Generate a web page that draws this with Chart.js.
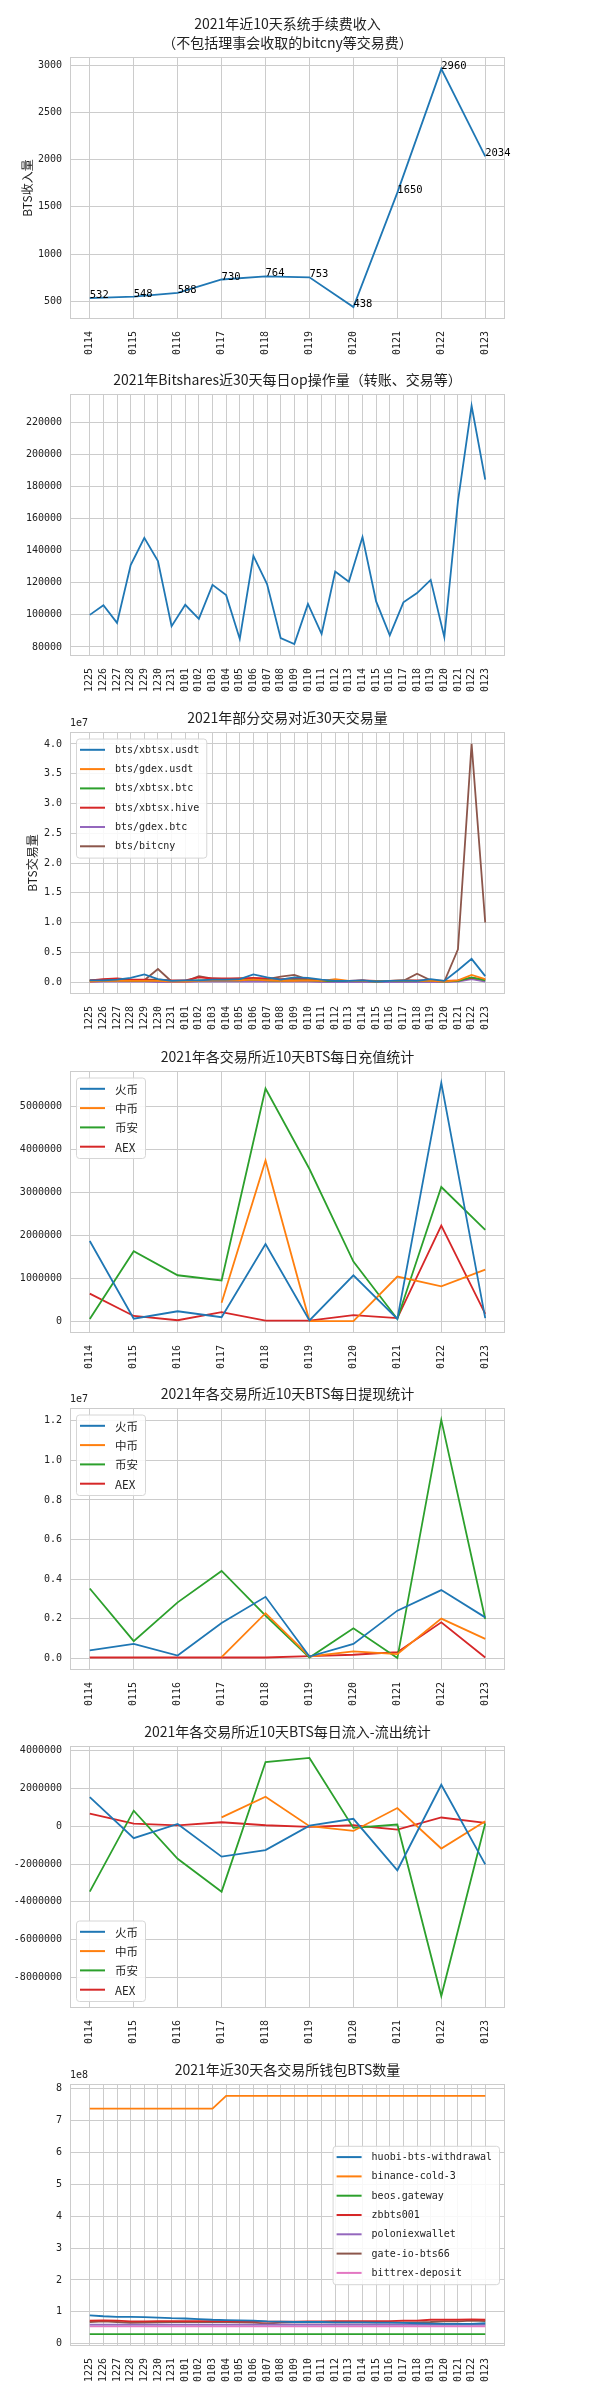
<!DOCTYPE html>
<html>
<head>
<meta charset="utf-8">
<script src="https://cdn.jsdelivr.net/npm/chart.js@4.4.1/dist/chart.umd.min.js"></script>
<style>
  body { margin: 0; background: #fff; width: 600px; height: 2400px; position: relative; overflow: hidden; }
  canvas { position: absolute; left: 0; }
</style>
</head>
<body>
<canvas id="c1" width="600" height="380"></canvas>
<canvas id="c2" width="600" height="380"></canvas>
<canvas id="c3" width="600" height="380"></canvas>
<canvas id="c4" width="600" height="380"></canvas>
<canvas id="c5" width="600" height="380"></canvas>
<canvas id="c6" width="600" height="380"></canvas>
<canvas id="c7" width="600" height="373"></canvas>
<script>
// dates
const dates10 = ['0114', '0115', '0116', '0117', '0118', '0119', '0120', '0121', '0122', '0123'];
const dates30 = ['1225', '1226', '1227', '1228', '1229', '1230', '1231', '0101', '0102', '0103',
                 '0104', '0105', '0106', '0107', '0108', '0109', '0110', '0111', '0112', '0113',
                 '0114', '0115', '0116', '0117', '0118', '0119', '0120', '0121', '0122', '0123'];

// 1. 系统手续费收入
const feeIncome = [532, 548, 588, 730, 764, 753, 438, 1650, 2960, 2034];
const feeTicks = [500, 1000, 1500, 2000, 2500, 3000];

// 2. 每日op操作量
const opCount = [100000, 106000, 95000, 131000, 148000, 133500, 93000, 106300, 97500, 118700,
                 112300, 85000, 136700, 119200, 85500, 81800, 106800, 88200, 127000, 120600,
                 148500, 108400, 87300, 107800, 113600, 121800, 86100, 170800, 230200, 184300];
const opTicks = [80000, 100000, 120000, 140000, 160000, 180000, 200000, 220000];

// 3. 交易对交易量 (x1e7)
const pairNames = ['bts/xbtsx.usdt', 'bts/gdex.usdt', 'bts/xbtsx.btc', 'bts/xbtsx.hive', 'bts/gdex.btc', 'bts/bitcny'];
const volXbtsxUsdt = [0.03, 0.03, 0.04, 0.07, 0.13, 0.05, 0.02, 0.03, 0.03, 0.04, 0.04, 0.05, 0.13, 0.08, 0.04,
                      0.08, 0.07, 0.04, 0.02, 0.02, 0.03, 0.01, 0.02, 0.03, 0.02, 0.05, 0.02, 0.2, 0.39, 0.1];
const volGdexUsdt = [0.01, 0.02, 0.02, 0.02, 0.02, 0.02, 0.01, 0.01, 0.02, 0.03, 0.03, 0.03, 0.04, 0.03, 0.02,
                     0.02, 0.03, 0.02, 0.05, 0.02, 0.02, 0.01, 0.02, 0.03, 0.02, 0.02, 0.01, 0.03, 0.12, 0.05];
const volXbtsxBtc = [0.02, 0.02, 0.03, 0.02, 0.02, 0.03, 0.02, 0.02, 0.03, 0.03, 0.03, 0.03, 0.04, 0.03, 0.02,
                     0.03, 0.03, 0.02, 0.02, 0.02, 0.02, 0.01, 0.02, 0.02, 0.02, 0.02, 0.01, 0.02, 0.08, 0.03];
const volXbtsxHive = [0.03, 0.05, 0.06, 0.04, 0.04, 0.04, 0.03, 0.03, 0.08, 0.06, 0.06, 0.06, 0.07, 0.06, 0.05,
                      0.06, 0.05, 0.03, 0.02, 0.02, 0.03, 0.02, 0.02, 0.03, 0.03, 0.03, 0.02, 0.03, 0.07, 0.04];
const volGdexBtc = [0.0, 0.01, 0.01, 0.01, 0.01, 0.0, 0.0, 0.0, 0.01, 0.01, 0.01, 0.01, 0.01, 0.01, 0.01,
                    0.01, 0.01, 0.0, 0.0, 0.0, 0.0, 0.0, 0.0, 0.0, 0.0, 0.0, 0.0, 0.01, 0.05, 0.01];
const volBitcny = [0.03, 0.04, 0.05, 0.03, 0.03, 0.22, 0.01, 0.01, 0.1, 0.06, 0.05, 0.06, 0.05, 0.05, 0.09,
                   0.12, 0.04, 0.01, 0.01, 0.01, 0.03, 0.0, 0.01, 0.02, 0.14, 0.03, 0.01, 0.55, 4.0, 1.0];
const volTicks = [0, 0.5, 1, 1.5, 2, 2.5, 3, 3.5, 4];

// 4-6. 交易所充值 / 提现 / 净流入
const exNames = ['火币', '中币', '币安', 'AEX'];
const depHuobi = [1870000, 55000, 230000, 90000, 1800000, 15000, 1070000, 50000, 5560000, 70000];
const depZb = [null, null, null, 430000, 3750000, 0, 0, 1040000, 810000, 1200000];
const depBinance = [50000, 1630000, 1070000, 950000, 5430000, 3550000, 1390000, 50000, 3130000, 2130000];
const depAex = [640000, 120000, 20000, 210000, 10000, 10000, 140000, 70000, 2230000, 170000];
const depTicks = [0, 1000000, 2000000, 3000000, 4000000, 5000000];

// 提现 (x1e7)
const wdHuobi = [0.039, 0.072, 0.013, 0.178, 0.31, 0.008, 0.072, 0.24, 0.344, 0.206];
const wdZb = [null, null, null, 0.005, 0.227, 0.008, 0.034, 0.02, 0.2, 0.097];
const wdBinance = [0.352, 0.086, 0.282, 0.441, 0.215, 0.003, 0.151, 0.0, 1.205, 0.198];
const wdAex = [0.003, 0.003, 0.003, 0.003, 0.003, 0.01, 0.017, 0.03, 0.181, 0.003];
const wdTicks = [0, 0.2, 0.4, 0.6, 0.8, 1.0, 1.2];

const netHuobi = [1540000, -630000, 120000, -1610000, -1260000, 30000, 390000, -2330000, 2190000, -2020000];
const netZb = [null, null, null, 470000, 1560000, 0, -250000, 960000, -1180000, 260000];
const netBinance = [-3460000, 820000, -1720000, -3460000, 3390000, 3610000, -90000, 90000, -8980000, 140000];
const netAex = [670000, 140000, 40000, 210000, 50000, -40000, 50000, -180000, 460000, 180000];
const netTicks = [-8000000, -6000000, -4000000, -2000000, 0, 2000000, 4000000];

// 7. 钱包BTS数量 (x1e8)
const walletNames = ['huobi-bts-withdrawal', 'binance-cold-3', 'beos.gateway', 'zbbts001',
                     'poloniexwallet', 'gate-io-bts66', 'bittrex-deposit'];
const wHuobi = [0.89, 0.86, 0.84, 0.84, 0.83, 0.82, 0.8, 0.79, 0.77, 0.75, 0.74, 0.73, 0.72, 0.7, 0.69,
                0.68, 0.68, 0.68, 0.67, 0.67, 0.67, 0.66, 0.66, 0.65, 0.64, 0.63, 0.62, 0.62, 0.62, 0.64];
const wBinance = [7.38, 7.38, 7.38, 7.38, 7.38, 7.38, 7.38, 7.38, 7.38, 7.38, 7.78, 7.78, 7.78, 7.78, 7.78,
                  7.78, 7.78, 7.78, 7.78, 7.78, 7.78, 7.78, 7.78, 7.78, 7.78, 7.78, 7.78, 7.78, 7.78, 7.78];
const wBeos = [0.3, 0.3, 0.3, 0.3, 0.3, 0.3, 0.3, 0.3, 0.3, 0.3, 0.3, 0.3, 0.3, 0.3, 0.3,
               0.3, 0.3, 0.3, 0.3, 0.3, 0.3, 0.3, 0.3, 0.3, 0.3, 0.3, 0.3, 0.3, 0.3, 0.3];
const wZb = [0.72, 0.73, 0.72, 0.7, 0.7, 0.71, 0.71, 0.71, 0.71, 0.71, 0.71, 0.7, 0.7, 0.69, 0.69,
             0.69, 0.7, 0.7, 0.71, 0.71, 0.71, 0.71, 0.71, 0.72, 0.72, 0.75, 0.75, 0.75, 0.76, 0.75];
const wPoloniex = [0.6, 0.6, 0.6, 0.6, 0.6, 0.6, 0.6, 0.6, 0.6, 0.6, 0.6, 0.6, 0.6, 0.6, 0.6,
                   0.6, 0.6, 0.6, 0.6, 0.6, 0.6, 0.6, 0.6, 0.6, 0.6, 0.6, 0.6, 0.6, 0.6, 0.6];
const wGate = [0.68, 0.7, 0.68, 0.65, 0.66, 0.67, 0.68, 0.68, 0.68, 0.68, 0.68, 0.67, 0.66, 0.63, 0.66,
               0.67, 0.67, 0.67, 0.67, 0.67, 0.67, 0.67, 0.67, 0.67, 0.67, 0.68, 0.7, 0.7, 0.72, 0.71];
const wBittrex = [0.54, 0.54, 0.54, 0.54, 0.54, 0.54, 0.54, 0.54, 0.54, 0.54, 0.54, 0.54, 0.54, 0.54, 0.54,
                  0.54, 0.54, 0.54, 0.54, 0.54, 0.54, 0.54, 0.54, 0.54, 0.54, 0.54, 0.54, 0.54, 0.54, 0.54];
const walletTicks = [0, 1, 2, 3, 4, 5, 6, 7, 8];

const COLORS = ['#1f77b4', '#ff7f0e', '#2ca02c', '#d62728', '#9467bd', '#8c564b', '#e377c2'];
const FONT_NUM = '"DejaVu Sans Mono", "Noto Sans CJK SC", sans-serif';
const FONT_CJK = '"Noto Sans CJK SC", sans-serif';
const TEXT = '#222222';
const GRID = '#cccccc';
const PLOT_TOPS = [57, 394, 732, 1071, 1408, 1746, 2084];
const PLOT_H = 262;
const TOP_PAD = 57;

// per-chart extra drawing: titles, axis title, offset text, custom legend, point labels
const extrasCfg = {};

const extras = {
  id: 'extras',
  beforeDatasetsDraw(chart) {
    const a = chart.chartArea, ctx = chart.ctx;
    ctx.save();
    ctx.strokeStyle = GRID;
    ctx.lineWidth = 1;
    ctx.strokeRect(Math.round(a.left) + 0.5, Math.round(a.top) + 0.5,
                   Math.round(a.width) - 1, Math.round(a.height) - 1);
    ctx.restore();
  },
  afterDraw(chart) {
    const cfg = extrasCfg[chart.canvas.id];
    const a = chart.chartArea, ctx = chart.ctx;
    const cx = (a.left + a.right) / 2;
    ctx.save();
    ctx.fillStyle = TEXT;

    // title
    ctx.font = '14px ' + FONT_CJK;
    ctx.textAlign = 'center';
    ctx.textBaseline = 'middle';
    if (cfg.title.length === 2) {
      ctx.fillText(cfg.title[0], cx, a.top - 33);
      ctx.fillText(cfg.title[1], cx, a.top - 14.7);
    } else {
      ctx.fillText(cfg.title[0], cx, a.top - 14);
    }

    // y axis title
    if (cfg.yTitle) {
      ctx.save();
      ctx.font = '12px ' + FONT_CJK;
      ctx.translate(cfg.yTitleX, (a.top + a.bottom) / 2);
      ctx.rotate(-Math.PI / 2);
      ctx.fillText(cfg.yTitle, 0, 0);
      ctx.restore();
    }

    // offset text like 1e7
    if (cfg.offset) {
      ctx.font = '10px ' + FONT_NUM;
      ctx.textAlign = 'left';
      ctx.fillText(cfg.offset, a.left, a.top - 9);
    }

    // value labels next to points
    if (cfg.pointLabels) {
      const meta = chart.getDatasetMeta(0);
      ctx.font = '10.5px ' + FONT_NUM;
      ctx.fillStyle = '#000';
      ctx.textAlign = 'left';
      ctx.textBaseline = 'alphabetic';
      meta.data.forEach((pt, i) => {
        ctx.fillText(String(chart.data.datasets[0].data[i].y), pt.x, pt.y);
      });
    }

    // legend
    if (cfg.legend) {
      const ds = chart.data.datasets;
      ctx.font = cfg.legend.font;
      const tw = Math.max(...ds.map(d => ctx.measureText(d.label).width));
      const rowH = 19.3, edge = 11.3;
      const w = 39 + tw + 7, h = 2 * edge + (ds.length - 1) * rowH;
      let x, y;
      if (cfg.legend.pos === 'ul') { x = a.left + 6; y = a.top + 6.5; }
      if (cfg.legend.pos === 'll') { x = a.left + 6; y = a.bottom - 7 - h; }
      if (cfg.legend.pos === 'cr') { x = a.right - 6 - w; y = (a.top + a.bottom) / 2 - h / 2; }
      ctx.beginPath();
      if (ctx.roundRect) ctx.roundRect(x + 0.5, y + 0.5, w, h, 3); else ctx.rect(x + 0.5, y + 0.5, w, h);
      ctx.fillStyle = 'rgba(255,255,255,0.85)';
      ctx.fill();
      ctx.strokeStyle = '#d6d6d6';
      ctx.lineWidth = 1;
      ctx.stroke();
      ctx.textAlign = 'left';
      ctx.textBaseline = 'middle';
      ds.forEach((d, i) => {
        const ry = y + edge + i * rowH;
        ctx.strokeStyle = d.borderColor;
        ctx.lineWidth = 2;
        ctx.beginPath();
        ctx.moveTo(x + 4, ry);
        ctx.lineTo(x + 29, ry);
        ctx.stroke();
        ctx.fillStyle = TEXT;
        ctx.fillText(d.label, x + 39, ry + 0.5);
      });
    }
    ctx.restore();
  }
};

function lineChart(id, idx, labels, series, names, yTicks, yFmt, cfg) {
  const canvas = document.getElementById(id);
  canvas.style.top = (PLOT_TOPS[idx] - TOP_PAD) + 'px';
  extrasCfg[id] = cfg;
  const all = series.flat().filter(v => v !== null);
  const lo = Math.min(...all), hi = Math.max(...all), m = (hi - lo) * 0.05;
  const n = labels.length - 1;
  const xHeight = canvas.height - TOP_PAD - PLOT_H;

  return new Chart(canvas, {
    type: 'line',
    data: {
      datasets: series.map((s, i) => ({
        label: names[i],
        data: s.map((v, j) => ({ x: j, y: v })),
        borderColor: COLORS[i],
        backgroundColor: COLORS[i],
        borderWidth: 1.8,
        pointRadius: 0,
        tension: 0,
        spanGaps: false
      }))
    },
    options: {
      responsive: false,
      animation: false,
      layout: { padding: { top: TOP_PAD, right: 95, left: 0, bottom: 0 } },
      plugins: { legend: { display: false }, tooltip: { enabled: false } },
      scales: {
        x: {
          type: 'linear',
          bounds: 'data',
          min: -n * 0.05,
          max: n * 1.05,
          afterBuildTicks: s => { s.ticks = labels.map((l, j) => ({ value: j })); },
          afterFit: s => { s.height = xHeight; },
          ticks: {
            callback: (v, i) => labels[i],
            minRotation: 90, maxRotation: 90, autoSkip: false, padding: 12,
            font: { family: FONT_NUM, size: 10 }, color: TEXT
          },
          grid: { color: GRID, drawTicks: false },
          border: { display: false }
        },
        y: {
          bounds: 'data',
          min: lo - m,
          max: hi + m,
          afterBuildTicks: s => { s.ticks = yTicks.map(v => ({ value: v })); },
          afterFit: s => { s.width = 70; },
          ticks: {
            callback: yFmt, padding: 8,
            font: { family: FONT_NUM, size: 10 }, color: TEXT
          },
          grid: { color: GRID, drawTicks: false },
          border: { display: false }
        }
      }
    },
    plugins: [extras]
  });
}

const plain = v => String(Math.round(v));
const oneDec = v => v.toFixed(1);

lineChart('c1', 0, dates10, [feeIncome], ['手续费'], feeTicks, plain, {
  title: ['2021年近10天系统手续费收入', '（不包括理事会收取的bitcny等交易费）'],
  yTitle: 'BTS收入量', yTitleX: 27, pointLabels: true
});

lineChart('c2', 1, dates30, [opCount], ['op'], opTicks, plain, {
  title: ['2021年Bitshares近30天每日op操作量（转账、交易等）']
});

lineChart('c3', 2, dates30,
  [volXbtsxUsdt, volGdexUsdt, volXbtsxBtc, volXbtsxHive, volGdexBtc, volBitcny],
  pairNames, volTicks, oneDec, {
    title: ['2021年部分交易对近30天交易量'],
    yTitle: 'BTS交易量', yTitleX: 32, offset: '1e7',
    legend: { pos: 'ul', font: '10px ' + FONT_NUM }
  });

lineChart('c4', 3, dates10, [depHuobi, depZb, depBinance, depAex], exNames, depTicks, plain, {
  title: ['2021年各交易所近10天BTS每日充值统计'],
  legend: { pos: 'ul', font: '11.5px ' + FONT_CJK }
});

lineChart('c5', 4, dates10, [wdHuobi, wdZb, wdBinance, wdAex], exNames, wdTicks, oneDec, {
  title: ['2021年各交易所近10天BTS每日提现统计'],
  offset: '1e7',
  legend: { pos: 'ul', font: '11.5px ' + FONT_CJK }
});

lineChart('c6', 5, dates10, [netHuobi, netZb, netBinance, netAex], exNames, netTicks, plain, {
  title: ['2021年各交易所近10天BTS每日流入-流出统计'],
  legend: { pos: 'll', font: '11.5px ' + FONT_CJK }
});

lineChart('c7', 6, dates30, [wHuobi, wBinance, wBeos, wZb, wPoloniex, wGate, wBittrex],
  walletNames, walletTicks, plain, {
    title: ['2021年近30天各交易所钱包BTS数量'],
    offset: '1e8',
    legend: { pos: 'cr', font: '10px ' + FONT_NUM }
  });
</script>
</body>
</html>
